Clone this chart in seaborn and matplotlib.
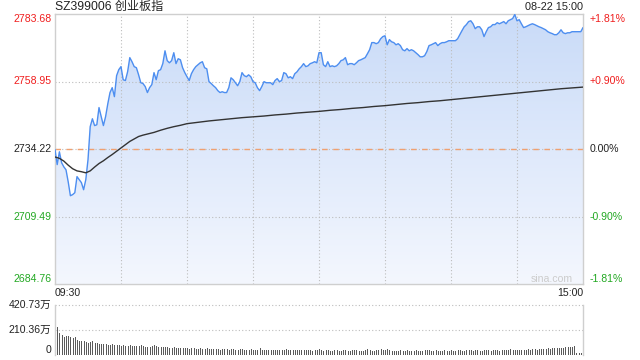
import numpy as np
import matplotlib
matplotlib.use("Agg")
import matplotlib.pyplot as plt
import seaborn as sns
from matplotlib.colors import LinearSegmentedColormap

# ---------------- data ----------------
title = "SZ399006 创业板指"
date_label = "08-22 15:00"
time_labels = ["09:30", "15:00"]
prev_close = 2734.22
price_levels = [2684.76, 2709.49, 2734.22, 2758.95, 2783.68]
pct_labels = ["-1.81%", "-0.90%", "0.00%", "+0.90%", "+1.81%"]
vol_levels = [0, 210.36, 420.73]
vol_labels = ["0", "210.36万", "420.73万"]

price = [
    2734.0, 2728.5, 2733.2, 2729.2, 2727.7, 2726.6, 2722.2, 2717.1, 2717.5, 2718.2,
    2724.1, 2723.0, 2721.9, 2719.3, 2723.0, 2730.3, 2742.4, 2745.3, 2742.8, 2743.1,
    2749.4, 2746.1, 2742.8, 2746.1, 2750.8, 2754.9, 2756.7, 2753.4, 2761.1, 2763.3,
    2764.4, 2759.6, 2759.3, 2762.5, 2767.7, 2766.2, 2764.4, 2764.0, 2761.4, 2758.5,
    2758.2, 2757.1, 2754.9, 2756.7, 2757.8, 2762.2, 2759.6, 2762.9, 2763.3, 2765.5,
    2770.2, 2766.6, 2765.8, 2766.6, 2769.5, 2765.5, 2767.3, 2766.9, 2764.0, 2762.2,
    2760.7, 2759.3, 2761.8, 2763.3, 2764.4, 2765.1, 2765.8, 2766.2, 2764.0, 2763.6,
    2758.9, 2758.2, 2757.4, 2756.7, 2755.6, 2754.9, 2755.2, 2754.9, 2754.9, 2756.7,
    2760.3, 2759.6, 2758.5, 2757.4, 2758.9, 2762.2, 2761.1, 2760.7, 2761.4, 2760.7,
    2758.9, 2758.5, 2756.7, 2755.6, 2757.1, 2758.9, 2758.5, 2758.5, 2758.5, 2757.8,
    2759.3, 2760.0, 2758.9, 2759.3, 2762.2, 2761.8, 2760.3, 2760.7, 2760.0, 2761.8,
    2762.5, 2763.6, 2764.4, 2765.5, 2764.4, 2764.7, 2765.5, 2765.8, 2766.2, 2765.8,
    2769.5, 2769.5, 2765.1, 2764.4, 2766.2, 2764.4, 2764.7, 2764.4, 2764.7, 2765.5,
    2766.6, 2766.9, 2767.7, 2765.1, 2765.5, 2765.5, 2765.1, 2765.8, 2766.6, 2766.9,
    2767.3, 2767.7, 2769.1, 2770.6, 2773.2, 2773.2, 2772.8, 2773.2, 2774.6, 2775.4,
    2775.7, 2772.4, 2774.3, 2773.5, 2773.2, 2772.4, 2772.8, 2772.1, 2770.6, 2770.2,
    2771.0, 2770.2, 2770.6, 2770.2, 2769.5, 2768.8, 2768.0, 2768.0, 2768.4, 2769.9,
    2772.1, 2772.4, 2772.8, 2773.2, 2772.1, 2772.8, 2773.2, 2773.2, 2773.5, 2773.9,
    2773.9, 2773.9, 2773.9, 2774.6, 2776.1, 2777.6, 2779.0, 2779.8, 2780.9, 2781.2,
    2780.1, 2778.3, 2779.0, 2779.0, 2777.9, 2775.4, 2777.2, 2778.7, 2779.0, 2779.8,
    2779.8, 2780.5, 2780.1, 2780.5, 2780.9, 2780.1, 2781.2, 2781.6, 2782.0, 2783.5,
    2781.2, 2781.6, 2780.1, 2778.7, 2779.0, 2779.4, 2779.8, 2780.1, 2779.8, 2779.4,
    2779.0, 2778.7, 2778.3, 2777.9, 2777.2, 2776.8, 2776.5, 2776.1, 2776.1, 2776.8,
    2777.9, 2776.8, 2776.5, 2776.8, 2776.8, 2777.2, 2777.2, 2777.2, 2777.2, 2777.2,
    2778.7,
]

avg_minutes = [0, 2, 4, 6, 8, 10, 12, 14, 16, 18, 20, 22, 24, 26, 28, 30, 32, 34, 36, 38,
               40, 42, 45, 48, 51, 54, 57, 60, 65, 70, 75, 80, 85, 90, 95, 100, 105, 110,
               115, 120, 125, 130, 135, 140, 145, 150, 155, 160, 165, 170, 175, 180, 185,
               190, 195, 200, 205, 210, 215, 220, 225, 230, 235, 240]
avg_price = [2731.3, 2730.8, 2729.8, 2728.3, 2727.0, 2726.2, 2725.9, 2725.5, 2726.2, 2727.6,
             2728.9, 2729.9, 2731.1, 2732.2, 2733.4, 2734.6, 2735.8, 2737.0, 2737.9, 2738.8,
             2739.3, 2739.7, 2740.3, 2741.1, 2741.8, 2742.4, 2742.9, 2743.5, 2744.0, 2744.5,
             2744.9, 2745.3, 2745.7, 2746.0, 2746.3, 2746.7, 2747.0, 2747.4, 2747.7, 2748.0,
             2748.4, 2748.7, 2749.1, 2749.4, 2749.8, 2750.1, 2750.5, 2750.9, 2751.2, 2751.6,
             2751.9, 2752.3, 2752.7, 2753.1, 2753.5, 2753.9, 2754.3, 2754.7, 2755.1, 2755.5,
             2755.9, 2756.3, 2756.6, 2756.9]

volume = [  # 万
    420.7, 238, 182, 168, 155, 160, 158, 150, 142, 148,
    130, 118, 116, 115, 112, 104, 110, 122, 105, 100,
    96, 92, 94, 90, 88, 86, 90, 84, 80, 82,
    78, 80, 76, 74, 80, 78, 76, 74, 72, 80,
    76, 70, 68, 66, 74, 80, 72, 70, 66, 64,
    68, 66, 60, 62, 66, 60, 58, 62, 56, 60,
    58, 54, 56, 60, 52, 54, 58, 50, 52, 56,
    50, 48, 52, 54, 48, 46, 50, 52, 47, 45,
    48, 50, 46, 44, 47, 52, 45, 43, 46, 48,
    44, 42, 46, 58, 44, 42, 45, 40, 42, 44,
    41, 46, 43, 40, 42, 50, 44, 41, 39, 43,
    45, 40, 38, 42, 44, 39, 41, 37, 40, 42,
    52, 40, 36, 38, 41, 35, 37, 42, 39, 36,
    34, 38, 44, 36, 35, 40, 43, 38, 35, 33,
    37, 45, 48, 40, 36, 34, 38, 46, 50, 42,
    44, 48, 38, 35, 37, 34, 36, 39, 35, 33,
    38, 36, 34, 37, 40, 35, 33, 36, 38, 42,
    40, 36, 34, 38, 35, 33, 37, 39, 36, 34,
    38, 35, 36, 40, 42, 37, 35, 38, 44, 40,
    36, 38, 42, 37, 35, 39, 41, 38, 36, 40,
    42, 38, 37, 44, 46, 40, 42, 48, 45, 43,
    40, 44, 42, 46, 44, 48, 45, 47, 50, 46,
    48, 52, 50, 54, 56, 52, 55, 60, 58, 62,
    56, 62, 66, 64, 70, 68, 76, 18, 16, 20,
    142,
]

# ---------------- style ----------------
sns.set_theme(style="white")
plt.rcParams["font.family"] = ["Liberation Sans", "Noto Sans CJK SC", "DejaVu Sans"]
FS = 7.6
RED = "#f01e1e"
GREEN = "#22a822"
GRID = "#bdbdbd"
SPINE = "#cfcfcf"
LINE = "#4d8ef0"

W, H = 640, 360
fig = plt.figure(figsize=(W / 100, H / 100), dpi=100)
L, R = 55, 583
ax = fig.add_axes([L / W, (H - 284) / H, (R - L) / W, 270 / H])
axv = fig.add_axes([L / W, (H - 355) / H, (R - L) / W, 50 / H])

minutes = np.arange(len(price))
n_last = len(price) - 1
ymin, ymax = price_levels[0], price_levels[-1]

# gradient fill under price line
poly = ax.fill_between(minutes, price, ymin, color="none", linewidth=0)
cmap = LinearSegmentedColormap.from_list("g", ["#f4f7fe", "#c9dbf8"])
grad = np.linspace(0, 1, 256).reshape(-1, 1)
img = ax.imshow(grad, cmap=cmap, aspect="auto", origin="lower",
                extent=[0, n_last, ymin, ymax], zorder=1)
img.set_clip_path(poly.get_paths()[0], transform=ax.transData)

# grid
for m in range(30, n_last, 30):
    ax.axvline(m, color=GRID, lw=0.8, ls=(0, (1, 2)), zorder=2)
for lv in (price_levels[1], price_levels[3]):
    ax.axhline(lv, color=GRID, lw=0.8, ls=(0, (1, 2)), zorder=2)
ax.axhline(prev_close, color=GRID, lw=0.8, ls=(0, (1, 2)), zorder=2)
ax.axhline(prev_close, color="#f0a070", lw=1.0, ls=(0, (4, 4)), zorder=2)

sns.lineplot(x=minutes, y=price, ax=ax, color=LINE, linewidth=1.0, zorder=4)
sns.lineplot(x=avg_minutes, y=avg_price, ax=ax, color="#333333", linewidth=1.0, zorder=5)

ax.set_xlim(0, n_last)
ax.set_ylim(ymin, ymax)
ax.set_xticks([])
ax.set_yticks([])
ax.set_xlabel("")
ax.set_ylabel("")
for s in ax.spines.values():
    s.set_visible(True)
    s.set_color(SPINE)
    s.set_linewidth(1.0)

# axis labels (left: price, right: percent)
ytr = ax.get_yaxis_transform()
for i, (lv, pl) in enumerate(zip(price_levels, pct_labels)):
    if lv > prev_close + 1e-6:
        col = RED
    elif lv < prev_close - 1e-6:
        col = GREEN
    else:
        col = "#222222"
    va = "center"
    if i == 0:
        va = "bottom"
    elif i == len(price_levels) - 1:
        va = "top"
    ax.text(-0.007, lv, f"{lv:.2f}", transform=ytr, ha="right", va=va, color=col, fontsize=FS)
    ax.text(1.013, lv, pl, transform=ytr, ha="left", va=va, color=col, fontsize=FS)

# titles
ax.text(0.0, 1.0 + 7 / 270, title, transform=ax.transAxes, ha="left", va="center",
        fontsize=FS + 1.1, color="#222222")
ax.text(1.0, 1.0 + 7 / 270, date_label, transform=ax.transAxes, ha="right", va="center",
        fontsize=FS + 0.2, color="#222222")
ax.text(0.0, -9 / 270, time_labels[0], transform=ax.transAxes, ha="left", va="center",
        fontsize=FS, color="#222222")
ax.text(1.0, -9 / 270, time_labels[1], transform=ax.transAxes, ha="right", va="center",
        fontsize=FS, color="#222222")
ax.text(1.0 - 10 / 528, 0.0, "sina.com", transform=ax.transAxes, ha="right", va="bottom",
        fontsize=FS, color="#cccccc")

# volume panel
axv.vlines(minutes, 0, volume, colors="#5a5a5a", linewidth=0.5, antialiased=False)
axv.set_xlim(0, n_last)
axv.set_ylim(0, vol_levels[-1])
axv.set_xticks([])
axv.set_yticks([])
for lv in vol_levels[1:]:
    axv.axhline(lv, color=GRID, lw=0.8, ls=(0, (1, 2)), zorder=0, clip_on=False)
for side in ("left", "right"):
    axv.spines[side].set_visible(True)
    axv.spines[side].set_color(SPINE)
    axv.spines[side].set_linewidth(1.0)
axv.spines["top"].set_visible(False)
axv.spines["bottom"].set_visible(False)
vtr = axv.get_yaxis_transform()
for lv, lab in zip(vol_levels, vol_labels):
    axv.text(-0.007, lv, lab, transform=vtr, ha="right",
             va="bottom" if lv == 0 else "center", fontsize=FS, color="#222222")

fig.savefig("out.png", dpi=100)
